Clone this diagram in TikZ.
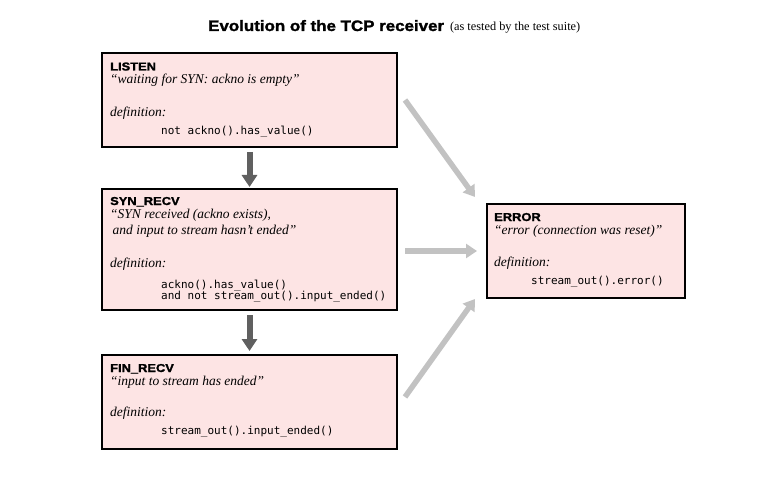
\documentclass[tikz,border=0pt]{standalone}
\usepackage{fontspec}
\setmainfont{Liberation Serif}
\newfontfamily\hfont{Liberation Sans Bold}[FakeStretch=1.12, FakeBold=1.6]
\newfontfamily\mfont{DejaVu Sans Mono}
\usetikzlibrary{arrows.meta}
\definecolor{boxfill}{RGB}{253,228,228}
\definecolor{darkarrow}{RGB}{96,96,96}
\definecolor{lightarrow}{RGB}{194,194,194}
\tikzset{
  statebox/.style={draw=black, line width=2pt, fill=boxfill, anchor=north west,
    minimum width=295pt, inner sep=0pt, outer sep=0pt},
  lbl/.style={anchor=base west, inner sep=0pt, font=\hfont\fontsize{11.5}{13}\selectfont},
  quote/.style={anchor=base west, inner sep=0pt, font=\itshape\fontsize{13.5}{15}\selectfont},
  code/.style={anchor=base west, inner sep=0pt, font=\mfont\fontsize{11}{12}\selectfont},
  darrow/.style={draw=darkarrow, line width=6pt, -{Triangle[width=15pt,length=12pt]}},
  larrow/.style={draw=lightarrow, line width=5.5pt, -{Triangle[width=14pt,length=11pt]}},
}
\begin{document}
\begin{tikzpicture}[x=1pt,y=-1pt]
\useasboundingbox (0,0) rectangle (762,481);
% title
\node[anchor=base west, inner sep=0pt] (title) at (208,31)
  {{\hfont\fontsize{15.1}{17}\selectfont Evolution of the TCP receiver}\hspace{6pt}{\fontsize{12.3}{15}\selectfont (as tested by the test suite)}};

% boxes
\node[statebox, minimum height=94pt] (listen) at (102,53) {};
\node[statebox, minimum height=121pt] (syn) at (102,189) {};
\node[statebox, minimum height=94pt] (fin) at (102,355) {};
\node[statebox, minimum width=198pt, minimum height=94pt] (err) at (487,204) {};

% LISTEN text
\node[lbl] (l1) at (110,70.5) {LISTEN};
\node[quote] (l2) at (110,83.5) {“waiting for SYN: ackno is empty”};
\node[quote] (l3) at (110,116.5) {definition:};
\node[code] (l4) at (161,134.5) {not ackno().has\_value()};

% SYN_RECV text
\node[lbl] (s1) at (110,205) {SYN\_RECV};
\node[quote] (s2) at (110,218) {“SYN received (ackno exists),};
\node[quote] (s3) at (112.5,234) {and input to stream hasn’t ended”};
\node[quote] (s4) at (110,267) {definition:};
\node[code] (s5) at (161,288) {ackno().has\_value()};
\node[code] (s6) at (161,299) {and not stream\_out().input\_ended()};

% FIN_RECV text
\node[lbl] (f1) at (110,372) {FIN\_RECV};
\node[quote] (f2) at (110,385) {“input to stream has ended”};
\node[quote] (f3) at (110,416) {definition:};
\node[code] (f4) at (161,434) {stream\_out().input\_ended()};

% ERROR text
\node[lbl] (e1) at (494,221) {ERROR};
\node[quote] (e2) at (494,234) {“error (connection was reset)”};
\node[quote] (e3) at (494,266) {definition:};
\node[code] (e4) at (531,284) {stream\_out().error()};

% arrows
\draw[darrow] ([yshift=-5pt]listen.south) -- ([yshift=2pt]syn.north);
\draw[darrow] ([yshift=-5pt]syn.south) -- ([yshift=4pt]fin.north);
\draw[larrow] ([xshift=8pt]listen.east) -- ([xshift=-12pt,yshift=7pt]err.north west);
\draw[larrow] ([xshift=8pt]syn.east |- err.west) -- ([xshift=-10pt]err.west);
\draw[larrow] ([xshift=8pt,yshift=5pt]fin.east) -- ([xshift=-12pt,yshift=-1pt]err.south west);
\end{tikzpicture}
\end{document}
